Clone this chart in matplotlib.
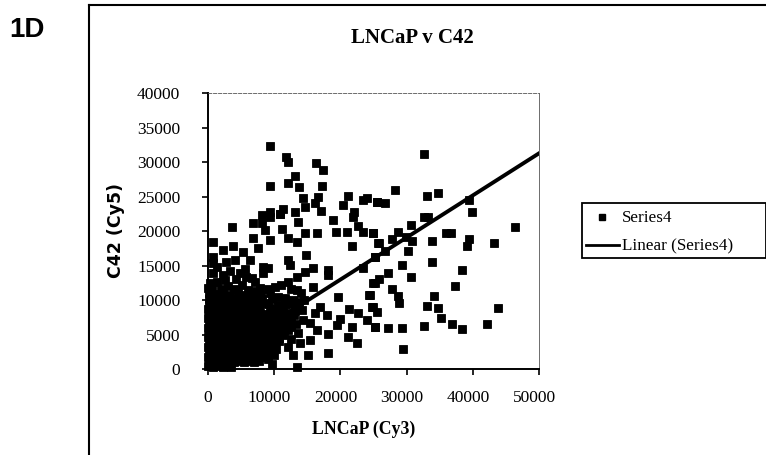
import matplotlib
matplotlib.use('Agg')
import matplotlib.pyplot as plt
from matplotlib.lines import Line2D
from matplotlib.patches import Rectangle
from matplotlib.transforms import ScaledTranslation

# values: (LNCaP Cy3, C42 Cy5)
right_points = [
    (32577, 31250), (28197, 25985), (33030, 25164), (34692, 25599), (25579, 24294), (26686, 24053),
    (39425, 24536), (39929, 22845), (32678, 22024), (33282, 22024), (30614, 20960), (46424, 20574),
    (24974, 19705), (28700, 19850), (27794, 18884), (29909, 19222), (30765, 18642), (33886, 18642),
    (35951, 19705), (36756, 19705), (39475, 18884), (39072, 17869), (43201, 18256), (25830, 18256),
    (26686, 17144), (25176, 16323), (30211, 17144), (29305, 15067), (33886, 15502), (38418, 14439),
    (27140, 14004), (30664, 13376), (25881, 13135), (24874, 12507), (37310, 12120), (27794, 11637),
    (28751, 10574), (34138, 10623), (28902, 9560), (24471, 10816), (24874, 9076), (33030, 9125),
    (34742, 8931), (43856, 8931), (25579, 8255), (35145, 7386), (36907, 6613), (42093, 6613),
    (32577, 6323), (25176, 6130), (27140, 5936), (29305, 5936), (38418, 5792), (29506, 2989),
]
top_points = [
    (9315, 32411), (11731, 30768), (12134, 30092), (16263, 29947), (17370, 28884), (13192, 28063),
    (12134, 26952), (9315, 26566), (13695, 26372), (17169, 26566), (14350, 24875), (16666, 25019),
    (21097, 25116), (20392, 23860), (23966, 24778), (23362, 24536), (25477, 24295), (17068, 22942),
    (11278, 23184), (10875, 22508), (9315, 22749), (8106, 22363), (13141, 22846), (14652, 23474),
    (16162, 24053), (22052, 22846), (18931, 21638), (21952, 22122),
]
middle_points = [
    (3675, 20672), (6848, 21251), (8106, 21155), (9365, 22121), (8610, 20188), (9365, 18739),
    (10875, 22507), (13645, 21396), (11127, 20285), (12134, 18980), (13393, 18498), (14652, 19705),
    (16414, 19705), (19334, 19947), (20945, 19947), (23463, 19947), (24874, 19705), (22708, 20768),
    (21701, 17870), (25729, 18256), (25225, 16323), (806, 18498), (2316, 17290), (3826, 17870),
    (6848, 18980), (7603, 17531), (5337, 17048), (4078, 15840), (2719, 15599), (806, 16323),
    (806, 15454), (6344, 15840), (14753, 16565), (12134, 15840), (12386, 15116), (8257, 14874),
    (9113, 14633), (8358, 14005), (15911, 14633), (14652, 14150), (13393, 13425), (12134, 12700),
    (18176, 14391), (18176, 13667), (23463, 14633), (4834, 13908), (2316, 13667), (6596, 13183),
    (302, 12459), (1309, 12700), (50, 11734), (3071, 12072), (5200, 12150), (7854, 11734),
    (10120, 11879), (15911, 11879), (13393, 11492), (9365, 11010), (25225, 12459), (24320, 10768),
    (19687, 10430), (24723, 9077), (21298, 8690), (22708, 8111), (23966, 7145), (25225, 6179),
    (16917, 8980), (16162, 8111), (17924, 7870), (19939, 7242), (15407, 6662), (16414, 5695),
    (18176, 5116), (19435, 6420), (21701, 6179), (21198, 4729), (22456, 3860), (15407, 4246),
    (14148, 8594), (18176, 2410), (15155, 2072), (13393, 285), (9617, 767), (12890, 2072),
    (12134, 3280), (13896, 3763), (13645, 5212), (12134, 5695),
]
dense_points = [
    (120, 11050), (1150, 10900), (2240, 11120), (3380, 10820), (4520, 11080), (5610, 10790), (6820, 10950), (8010, 10700),
    (90, 10180), (820, 10350), (1690, 10120), (2610, 10280), (3540, 10060), (4490, 10240), (5420, 10010), (6360, 10200), (7300, 10040), (8220, 10150), (11600, 10300), (12900, 10100),
    (210, 9520), (940, 9380), (1780, 9610), (2550, 9420), (3370, 9580), (4210, 9340), (5060, 9550), (5900, 9360), (6720, 9520), (7540, 9310), (8380, 9480), (10500, 9300), (12700, 9400), (13700, 9700),
    (60, 8810), (760, 8690), (1530, 8880), (2290, 8720), (3050, 8900), (3820, 8680), (4600, 8860), (5390, 8710), (6140, 8890), (6930, 8670), (7720, 8820), (10300, 8600), (11400, 8800), (13200, 8500),
    (170, 8120), (880, 8010), (1640, 8190), (2420, 8030), (3190, 8210), (3960, 7990), (4740, 8170), (5510, 8020), (6290, 8200), (7070, 7980), (7850, 8160), (8620, 8010), (9400, 8050), (10900, 7900), (12100, 8100),
    (40, 7420), (730, 7330), (1490, 7500), (2260, 7340), (3030, 7510), (3800, 7300), (4570, 7480), (5340, 7320), (6110, 7500), (6880, 7290), (7650, 7470), (8420, 7310), (9200, 7450), (10000, 7250), (11000, 7100), (12600, 7300),
    (150, 6730), (860, 6620), (1620, 6800), (2390, 6640), (3160, 6810), (3930, 6600), (4700, 6790), (5470, 6630), (6240, 6800), (7010, 6590), (7780, 6770), (8550, 6620), (9320, 6760), (10100, 6560), (11300, 6650), (13300, 6500),
    (30, 6020), (710, 5930), (1470, 6090), (2240, 5940), (3010, 6110), (3780, 5900), (4550, 6080), (5320, 5930), (6090, 6100), (6860, 5890), (7630, 6070), (8400, 5920), (9170, 6060), (9940, 5880), (10700, 6000), (11500, 5500),
    (130, 5330), (840, 5220), (1600, 5400), (2370, 5240), (3140, 5410), (3910, 5200), (4680, 5390), (5450, 5230), (6220, 5400), (6990, 5190), (7760, 5370), (8530, 5220), (9300, 5360), (10070, 5180), (10840, 5320),
    (20, 4620), (700, 4530), (1460, 4700), (2230, 4540), (3000, 4710), (3770, 4500), (4540, 4690), (5310, 4530), (6080, 4700), (6850, 4490), (7620, 4670), (8390, 4520), (9160, 4660), (9930, 4480), (10700, 4600), (12500, 4400),
    (110, 3930), (820, 3820), (1580, 4000), (2350, 3840), (3120, 4010), (3890, 3800), (4660, 3990), (5430, 3830), (6200, 4000), (6970, 3790), (7740, 3970), (8510, 3820), (9280, 3960), (10050, 3780),
    (10, 3230), (690, 3130), (1450, 3300), (2220, 3140), (2990, 3310), (3760, 3100), (4530, 3290), (5300, 3130), (6070, 3300), (6840, 3090), (7610, 3270), (8380, 3120), (9150, 3260),
    (100, 2530), (810, 2420), (1570, 2600), (2340, 2440), (3110, 2610), (3880, 2400), (4650, 2590), (5420, 2430), (6190, 2600), (6960, 2390), (7730, 2570), (8500, 2420), (9270, 2360),
    (30, 1830), (720, 1720), (1480, 1900), (2250, 1740), (3020, 1910), (3790, 1700), (4560, 1890), (5330, 1730), (6100, 1900), (6870, 1690), (7640, 1870), (8410, 1720),
    (90, 1130), (800, 1030), (1560, 1200), (2330, 1040), (3100, 1210), (3870, 1010), (4640, 1160), (5410, 1020), (6180, 1180), (6950, 1000), (7720, 1150),
    (20, 420), (710, 330), (1470, 480), (2240, 340), (2900, 450), (3500, 380),
]
# block edges that were still showing gaps
edge_points = [
    (9700, 10150), (10600, 10500), (9000, 9600), (11700, 9450), (9350, 8900), (11200, 8050), (9900, 7700),
    (10800, 7600), (11900, 7300), (10700, 6900), (11800, 6400), (12600, 6200), (10600, 5600), (11300, 4900),
    (10800, 4100), (9800, 3300), (10300, 2900), (9100, 1500), (10000, 2100), (8900, 3000), (8300, 2900),
    (1900, 11600), (3900, 11600), (6100, 11500), (7300, 11400), (9000, 11700), (600, 12000), (2500, 13000),
    (4200, 13100), (5700, 13400), (700, 13900), (3300, 14300), (5600, 14500), (1400, 14800), (7100, 12600),
    (11000, 12200), (12500, 11600), (14000, 11000), (14500, 10100), (13000, 7800), (14300, 7100),
]
trend_x = [0, 50000]
trend_y = [800, 31300]

x_ticks = [0, 10000, 20000, 30000, 40000, 50000]
y_ticks = [0, 5000, 10000, 15000, 20000, 25000, 30000, 35000, 40000]

all_points = right_points + top_points + middle_points + dense_points + edge_points
lncap = [p[0] for p in all_points]
c42 = [p[1] for p in all_points]

W, H = 766, 455
fig = plt.figure(figsize=(W / 100, H / 100), dpi=100, facecolor='white')

serif = 'Liberation Serif'

# plot area, pixel positions from the reference
ax = fig.add_axes([208 / W, (H - 369.3) / H, 331 / W, 276 / H])
ax.plot(lncap, c42, ls='none', marker='s', ms=5.6, mew=0.6, color='black', clip_on=False, zorder=3)
ax.plot(trend_x, trend_y, color='black', lw=2.8, zorder=4)
ax.set_xlim(0, 50000)
ax.set_ylim(0, 40000)
ax.set_xticks(x_ticks)
ax.set_yticks(y_ticks)
ax.set_xticklabels([str(v) for v in x_ticks], family=serif, fontsize=12.5)
ax.set_yticklabels([str(v) for v in y_ticks], family=serif, fontsize=12.5)
ax.tick_params(axis='both', length=4, width=1.2, color='black')
ax.tick_params(axis='x', pad=11)
ax.tick_params(axis='y', pad=16)
ax.spines['left'].set_linewidth(1.4)
ax.spines['bottom'].set_linewidth(1.4)
ax.spines['top'].set_linewidth(0.6)
ax.spines['top'].set_linestyle((0, (4, 2)))
ax.spines['top'].set_color('#555555')
ax.spines['right'].set_linewidth(0.6)
ax.spines['right'].set_linestyle((0, (1, 1)))
ax.spines['right'].set_color('#555555')

# x labels sit a little left of their ticks in the reference
for lab, v in zip(ax.get_xticklabels(), x_ticks):
    if v > 0:
        lab.set_transform(lab.get_transform() + ScaledTranslation(-5 / 100, 0, fig.dpi_scale_trans))


def px(x, y):
    return x / W, 1 - y / H


# outer frame runs off the right and bottom of the scan
fig.add_artist(Line2D([89 / W, 89 / W], [0, 1 - 5 / H], color='black', lw=1.5))
fig.add_artist(Line2D([89 / W, 1], [1 - 5 / H, 1 - 5 / H], color='black', lw=1.5))

fig.text(*px(9, 37), '1D', family='Liberation Sans', weight='bold', fontsize=20, ha='left', va='baseline')
fig.text(*px(412, 43), 'LNCaP v C42', family=serif, weight='bold', fontsize=15, ha='center', va='baseline')
fig.text(*px(364, 434), 'LNCaP (Cy3)', family=serif, weight='bold', fontsize=12.8, ha='center', va='baseline')
fig.text(*px(116, 231), 'C42 (Cy5)', family='DejaVu Sans', weight='bold', fontsize=12.5,
         rotation=90, ha='center', va='center')

# legend box, also cut off on the right
fig.add_artist(Rectangle(px(582, 258), 1 - 582 / W, 55 / H, transform=fig.transFigure,
                         fill=False, edgecolor='black', lw=1.3))
fig.add_artist(Line2D([602 / W], [1 - 217 / H], ls='none', marker='s', ms=5, color='black'))
fig.add_artist(Line2D([586 / W, 619 / W], [1 - 245 / H, 1 - 245 / H], color='black', lw=2))
fig.text(*px(622, 222), 'Series4', family=serif, fontsize=12.3, ha='left', va='baseline')
fig.text(*px(622, 250), 'Linear (Series4)', family=serif, fontsize=12.3, ha='left', va='baseline')

fig.savefig('out.png', dpi=100)
